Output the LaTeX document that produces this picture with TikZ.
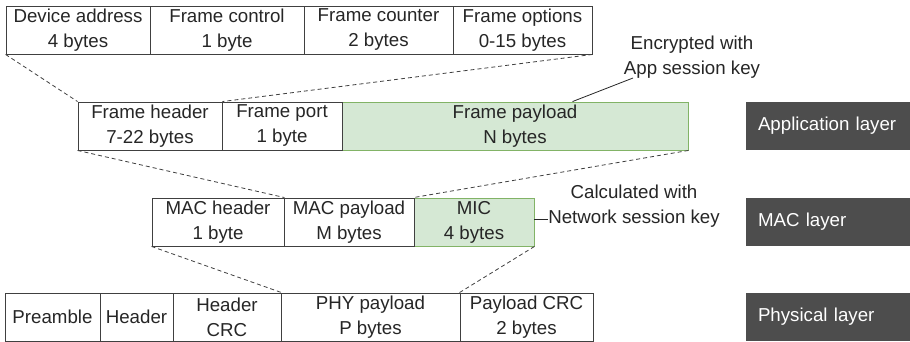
\documentclass[tikz,border=0pt]{standalone}
\usepackage{fontspec}
\setmainfont{Liberation Sans}
\usetikzlibrary{calc}
\definecolor{ln}{HTML}{404040}
\definecolor{gfill}{HTML}{D5E8D4}
\definecolor{gline}{HTML}{82B366}
\definecolor{dark}{HTML}{4D4D4D}
\definecolor{txt}{HTML}{262626}
\begin{document}
\begin{tikzpicture}[x=1pt,y=-1pt,
 every node/.style={font=\fontsize{18.7}{25}\selectfont, text=txt},
 cell/.style={draw=ln, line width=0.9pt, fill=white, align=center, inner sep=0pt, minimum height=48pt},
 gcell/.style={cell, draw=gline, fill=gfill},
 layer/.style={fill=dark, text=white, text width=140pt, align=left, inner xsep=12pt, inner ysep=0pt, minimum height=48pt},
 note/.style={align=center, inner sep=0pt},
 dashline/.style={draw=ln, line width=0.8pt, dash pattern=on 4pt off 3pt},
 leader/.style={draw=txt, line width=0.8pt}]
\useasboundingbox[fill=white] (0,0) rectangle (910,342);

% top row
\node[cell, minimum width=144pt] (da) at (78,30) {Device address\\4 bytes};
\node[cell, minimum width=154pt] (fc) at (227,30) {Frame control\\1 byte};
\node[cell, minimum width=149pt] (fcnt) at (378.5,30) {Frame counter\\2 bytes};
\node[cell, minimum width=139pt] (fo) at (522.5,30) {Frame options\\0-15 bytes};

% application row
\node[gcell, minimum width=346pt] (fpl) at (515,126) {Frame payload\\N bytes};
\node[cell, minimum width=144pt] (fh) at (150,126) {Frame header\\7-22 bytes};
\node[cell, minimum width=120pt] (fp) at (282,126) {Frame port\\1 byte};

% MAC row
\node[gcell, minimum width=120pt] (mic) at (474,222) {MIC\\4 bytes};
\node[cell, minimum width=132pt] (mh) at (218,222) {MAC header\\1 byte};
\node[cell, minimum width=130pt] (mp) at (349,222) {MAC payload\\M bytes};

% physical row
\node[cell, minimum width=95pt] (pre) at (52.5,317) {Preamble};
\node[cell, minimum width=73pt] (hdr) at (136.5,317) {Header};
\node[cell, minimum width=108pt] (hcrc) at (227,317) {Header\\CRC};
\node[cell, minimum width=179pt] (php) at (370.5,317) {PHY payload\\P bytes};
\node[cell, minimum width=133pt] (pcrc) at (526.5,317) {Payload CRC\\2 bytes};

% layer labels
\node[layer] (lapp) at (828,126) {Application layer};
\node[layer] (lmac) at (828,222) {MAC layer};
\node[layer] (lphy) at (828,317) {Physical layer};

% dashed expansion lines
\draw[dashline] (da.south west) -- (fh.north west);
\draw[dashline] (fo.south east) -- (fh.north east);
\draw[dashline] (fh.south west) -- (mh.north east);
\draw[dashline] (fpl.south east) -- (mic.north west);
\draw[dashline] (mh.south west) -- (hcrc.north east);
\draw[dashline] (mic.south east) -- (pcrc.north west);

% annotations
\node[note] (enc) at (692,57) {Encrypted with\\App session key};
\coordinate (encA) at ($(fpl.north west)+(231,0)$);
\coordinate (encB) at (633,78);
\draw[leader] (encA) -- (encB);

\node[note] (cal) at (634,206) {Calculated with\\Network session key};
\coordinate (calB) at (548,219);
\draw[leader] (mic.east |- calB) -- (calB);
\end{tikzpicture}
\end{document}
